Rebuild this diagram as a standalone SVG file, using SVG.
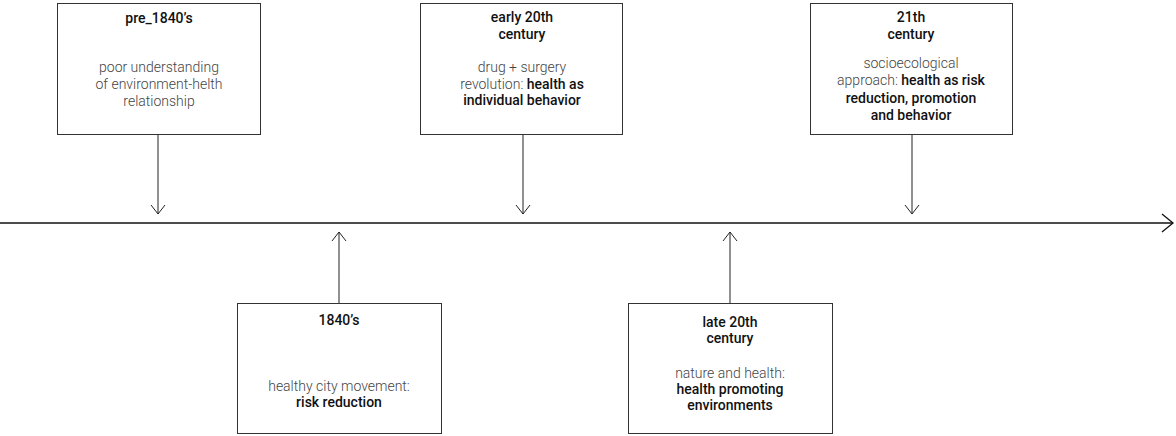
<svg xmlns="http://www.w3.org/2000/svg" width="1176" height="436" viewBox="0 0 1176 436">
<style>
.box{fill:#fff;stroke:#333;stroke-width:1}
.t{font-family:Roboto,"Liberation Sans",sans-serif;font-size:14px;font-weight:500;fill:#111;text-anchor:middle}
.b{font-family:Roboto,"Liberation Sans",sans-serif;font-size:14px;font-weight:300;fill:#444;text-anchor:middle}
.s{font-weight:500;fill:#111}
.c{stroke:#222;stroke-width:1;fill:none}
.tl{stroke:#111;stroke-width:1.5;fill:none}
</style>
<defs>
<marker id="ah" markerWidth="20" markerHeight="20" refX="10" refY="8" orient="auto" markerUnits="userSpaceOnUse">
<path d="M1,1 L10,8 L1,15" fill="none" stroke="#222" stroke-width="1"/>
</marker>
<marker id="ah2" markerWidth="24" markerHeight="24" refX="12" refY="10" orient="auto" markerUnits="userSpaceOnUse">
<path d="M1,1 L12,10 L1,19" fill="none" stroke="#111" stroke-width="1.3"/>
</marker>
</defs>
<g id="connectors">
<line class="tl" x1="0" y1="223" x2="1173" y2="223" marker-end="url(#ah2)"/>
<line class="c" x1="158" y1="134" x2="158" y2="214" marker-end="url(#ah)"/>
<line class="c" x1="523" y1="134" x2="523" y2="214" marker-end="url(#ah)"/>
<line class="c" x1="912" y1="134" x2="912" y2="214" marker-end="url(#ah)"/>
<line class="c" x1="339" y1="303" x2="339" y2="232" marker-end="url(#ah)"/>
<line class="c" x1="730" y1="303" x2="730" y2="232" marker-end="url(#ah)"/>
</g>
<g id="node-pre1840">
<rect class="box" x="57.500" y="3.500" width="203" height="131"/>
<text class="t" x="159" y="23">pre_1840’s</text>
<text class="b" x="159" y="72">poor understanding</text>
<text class="b" x="159" y="89">of environment-helth</text>
<text class="b" x="159" y="106">relationship</text>
</g>
<g id="node-early20">
<rect class="box" x="420.500" y="3.500" width="202" height="131"/>
<text class="t" x="522" y="22">early 20th</text>
<text class="t" x="522" y="39">century</text>
<text class="b" x="522" y="72">drug + surgery</text>
<text class="b" x="522" y="88.500"><tspan>revolution: </tspan><tspan class="s">health as</tspan></text>
<text class="t" x="522" y="105">individual behavior</text>
</g>
<g id="node-21th">
<rect class="box" x="810.500" y="3.500" width="202" height="131"/>
<text class="t" x="911" y="22">21th</text>
<text class="t" x="911" y="39">century</text>
<text class="b" x="911" y="68">socioecological</text>
<text class="b" x="911" y="85"><tspan>approach: </tspan><tspan class="s">health as risk</tspan></text>
<text class="t" x="911" y="102.500">reduction, promotion</text>
<text class="t" x="911" y="119.500">and behavior</text>
</g>
<g id="node-1840">
<rect class="box" x="237.500" y="303.500" width="204" height="130"/>
<text class="t" x="339" y="325">1840’s</text>
<text class="b" x="339" y="391">healthy city movement:</text>
<text class="t" x="339" y="407">risk reduction</text>
</g>
<g id="node-late20">
<rect class="box" x="628.500" y="303.500" width="204" height="130"/>
<text class="t" x="730" y="327">late 20th</text>
<text class="t" x="730" y="343">century</text>
<text class="b" x="730" y="378">nature and health:</text>
<text class="t" x="730" y="394">health promoting</text>
<text class="t" x="730" y="410">environments</text>
</g>
</svg>
